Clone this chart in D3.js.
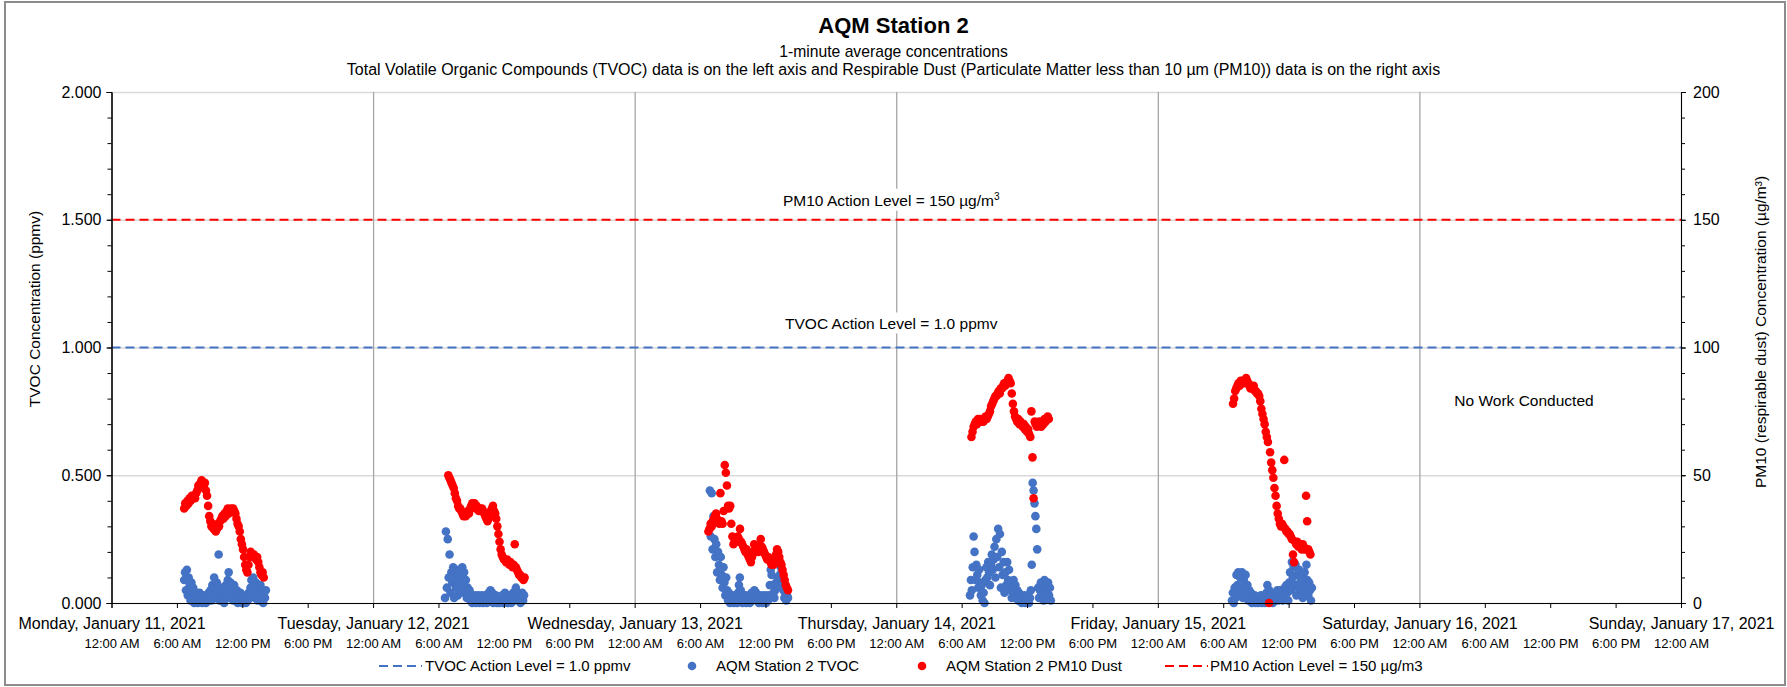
<!DOCTYPE html>
<html>
<head>
<meta charset="utf-8">
<script src="https://cdn.jsdelivr.net/npm/d3@7"></script>
<style>
    body { margin: 0; background: #fff; }
    svg { display: block; font-family: "Liberation Sans", Arial, sans-serif; }
</style>
</head>
<body>
<div id="chart"></div>
<script>
// tick labels
const dateTicks = ["2021-01-11", "2021-01-12", "2021-01-13", "2021-01-14", "2021-01-15", "2021-01-16", "2021-01-17"]
const dateTickLabels = ["Monday, January 11, 2021", "Tuesday, January 12, 2021", "Wednesday, January 13, 2021",
    "Thursday, January 14, 2021", "Friday, January 15, 2021", "Saturday, January 16, 2021", "Sunday, January 17, 2021"]
const timeTickLabels = ["12:00 AM", "6:00 AM", "12:00 PM", "6:00 PM"]
const yLeftTicks = [0, 0.5, 1, 1.5, 2]
const yRightTicks = [0, 50, 100, 150, 200]

const tvocActionLevel = 1.0    // ppmv
const pm10ActionLevel = 150    // ug/m3

// 1-minute data, thinned: TVOC every 5 min, PM10 every 6 min, from the start time of each work day
const tvocStep = 5
const pm10Step = 6
const tvocStart = ["06:40", "06:36", "06:54", "06:46", "06:48"]
const pm10Start = ["06:40", "06:54", "06:46", "06:54", "06:54"]

const tvocMon = [0.09,0.12,0.05,0.13,0.03,0.10,0.07,0.01,0.08,0.04,
    0.06,0.00,0.03,0.01,0.04,0.00,0.02,0.04,0.01,0.03,
    0.00,0.02,0.01,0.03,0.00,0.02,0.01,0.04,0.02,0.05,
    0.01,0.07,0.03,0.10,0.06,0.02,0.08,0.04,0.19,0.01,
    0.05,0.02,0.06,0.03,0.00,0.04,0.07,0.02,0.09,0.12,
    0.05,0.08,0.03,0.06,0.01,0.07,0.04,0.02,0.05,0.00,
    0.03,0.01,0.04,0.02,0.00,0.03,0.01,0.02,0.00,0.03,
    0.01,0.04,0.02,0.06,0.09,0.04,0.10,0.07,0.02,0.08,
    0.05,0.01,0.06,0.03,0.07,0.02,0.05,0.00,0.04,0.02,
    0.05]
const tvocTue = [0.02,0.28,0.06,0.25,0.10,0.19,0.04,0.12,0.08,0.14,
    0.02,0.11,0.06,0.09,0.03,0.13,0.07,0.10,0.04,0.14,
    0.08,0.12,0.05,0.09,0.02,0.06,0.03,0.05,0.01,0.03,
    0.00,0.02,0.01,0.03,0.00,0.02,0.01,0.03,0.00,0.02,
    0.01,0.03,0.00,0.02,0.01,0.03,0.00,0.02,0.04,0.01,
    0.05,0.02,0.04,0.00,0.02,0.01,0.03,0.00,0.02,0.01,
    0.00,0.02,0.01,0.03,0.00,0.02,0.04,0.01,0.03,0.00,
    0.02,0.01,0.03,0.00,0.02,0.04,0.01,0.03,0.06,0.02,
    0.04,0.01,0.03,0.00,0.02,0.04,0.01,0.03]
const tvocWed = [0.44,0.26,0.43,0.21,0.34,0.25,0.18,0.23,0.12,0.20,
    0.15,0.09,0.18,0.11,0.06,0.14,0.08,0.03,0.10,0.05,
    0.01,0.04,0.00,0.02,0.01,0.03,0.00,0.02,0.01,0.03,
    0.00,0.04,0.07,0.10,0.05,0.02,0.00,0.02,0.01,0.03,
    0.00,0.02,0.01,0.03,0.00,0.02,0.04,0.01,0.03,0.05,
    0.02,0.04,0.01,0.03,0.00,0.02,0.01,0.03,0.00,0.02,
    0.01,0.03,0.00,0.02,0.01,0.03,0.07,0.13,0.11,0.07,
    0.04,0.02,0.05,0.08,0.06,0.10,0.07,0.11,0.14,0.12,
    0.08,0.05,0.02,0.04,0.01,0.03,0.02]
const tvocThu = [0.03,0.09,0.05,0.14,0.26,0.20,0.09,0.15,0.11,0.06,
    0.13,0.08,0.03,0.07,0.01,0.04,0.00,0.09,0.14,0.10,
    0.16,0.12,0.07,0.15,0.19,0.13,0.17,0.22,0.10,0.25,
    0.18,0.29,0.14,0.27,0.06,0.20,0.11,0.16,0.04,0.12,
    0.07,0.16,0.09,0.13,0.05,0.08,0.02,0.06,0.09,0.04,
    0.07,0.02,0.05,0.01,0.04,0.02,0.03,0.00,0.02,0.01,
    0.03,0.00,0.02,0.01,0.03,0.00,0.02,0.05,0.15,0.47,
    0.44,0.39,0.34,0.29,0.21,0.06,0.02,0.05,0.08,0.03,
    0.07,0.01,0.09,0.04,0.06,0.02,0.08,0.03,0.06,0.01]
const tvocFri = [0.01,0.04,0.00,0.06,0.02,0.11,0.07,0.12,0.04,0.10,
    0.06,0.12,0.02,0.09,0.05,0.11,0.03,0.07,0.01,0.05,
    0.02,0.04,0.00,0.02,0.01,0.03,0.00,0.02,0.01,0.00,
    0.02,0.01,0.03,0.00,0.02,0.01,0.00,0.02,0.04,0.07,
    0.02,0.05,0.01,0.04,0.02,0.00,0.03,0.01,0.04,0.02,
    0.05,0.01,0.03,0.05,0.02,0.04,0.01,0.03,0.06,0.02,
    0.07,0.04,0.01,0.08,0.12,0.05,0.16,0.10,0.14,0.07,
    0.15,0.03,0.11,0.06,0.13,0.08,0.04,0.10,0.02,0.07,
    0.12,0.05,0.15,0.09,0.03,0.08,0.05,0.01,0.06]

const pm10Mon = [37,39,38,40,39,41,40,42,41,42,
    41,43,44,46,45,47,48,47,46,47,
    44,42,38,34,32,30,31,29,30,28,
    29,31,30,32,33,34,33,35,34,36,
    37,35,36,37,36,37,36,35,33,31,
    30,28,25,23,21,18,15,13,12,15,
    18,20,19,18,19,18,17,18,16,14,
    12,11,12,10]
const pm10Tue = [50,49,48,47,46,45,43,41,40,38,
    37,37,36,35,34,35,34,35,36,35,
    37,38,39,38,39,37,38,37,36,37,
    36,37,36,35,34,33,32,33,35,36,
    37,38,36,35,33,30,27,24,21,19,
    18,17,17,16,17,16,15,16,15,14,
    15,23,14,13,12,11,11,10,10,9,
    10]
const pm10Wed = [28,29,31,30,32,33,34,35,33,32,
    31,43,32,31,36,54,51,46,38,37,
    38,31,26,23,24,25,24,26,25,29,
    24,23,22,21,20,21,19,18,17,16,
    18,20,23,21,20,21,20,22,25,22,
    21,20,19,18,17,18,17,16,15,16,
    15,17,19,21,20,18,16,15,13,11,
    9,7,6,5]
const pm10Thu = [65,67,69,70,71,70,72,71,72,71,
    72,71,72,73,72,73,74,75,77,78,
    79,80,81,81,82,83,82,84,84,85,
    86,85,86,87,88,87,86,82,78,75,
    73,72,71,72,70,71,70,69,70,68,
    69,67,68,66,65,75,57,41,71,70,
    69,70,71,70,69,71,70,72,71,72,
    73,72]
const pm10Fri = [78,80,83,84,85,86,85,87,86,87,
    86,87,88,87,86,85,84,85,84,85,
    83,83,82,82,81,79,76,74,72,70,
    67,65,63,0,59,55,52,49,45,42,
    38,35,33,31,30,31,30,56,29,28,
    28,27,27,26,25,19,16,24,23,24,
    22,23,22,21,23,22,21,42,32,21,
    20,19]

const legendLabels = ["TVOC Action Level = 1.0 ppmv", "AQM Station 2 TVOC", "AQM Station 2 PM10 Dust", "PM10 Action Level = 150 µg/m3"]

const blue = "#4472C4", red = "#FF0000"

/*
    CHART
*/
const width = 1787, height = 687
const margin = ({ top: 92, right: 106, bottom: 84, left: 111.5 })
const plotW = width - margin.left - margin.right
const plotH = height - margin.top - margin.bottom
const font = "Liberation Sans, Arial, sans-serif"

const parseTime = d3.timeParse("%Y-%m-%d %H:%M")

const toPoints = (series, starts, step) => series.flatMap((vals, i) => {
    const t0 = parseTime(dateTicks[i] + " " + starts[i])
    return vals.map((v, j) => ({ t: d3.timeMinute.offset(t0, j * step), v: v }))
})
const tvoc = toPoints([tvocMon, tvocTue, tvocWed, tvocThu, tvocFri], tvocStart, tvocStep)
const pm10 = toPoints([pm10Mon, pm10Tue, pm10Wed, pm10Thu, pm10Fri], pm10Start, pm10Step)

var svg = d3.select("#chart").append("svg")
    .attr("width", width)
    .attr("height", height)

const x = d3.scaleTime()
    .domain([parseTime(dateTicks[0] + " 00:00"), parseTime(dateTicks[dateTicks.length - 1] + " 00:00")])
    .range([margin.left, width - margin.right])
const yL = d3.scaleLinear().domain([0, 2]).range([height - margin.bottom, margin.top])
const yR = d3.scaleLinear().domain([0, 200]).range([height - margin.bottom, margin.top])

// chart border
svg.append("rect")
    .attr("x", 5).attr("y", 2)
    .attr("width", width - 7).attr("height", height - 4)
    .attr("fill", "none").attr("stroke", "#8c8c8c").attr("stroke-width", 2)

// gridlines
svg.append("g")
    .attr("transform", `translate(${margin.left},0)`)
    .call(d3.axisLeft(yL).tickValues(yLeftTicks).tickSize(-plotW).tickFormat(""))
    .call(g => g.select(".domain").remove())
    .call(g => g.selectAll(".tick line").attr("stroke", "#d9d9d9").attr("stroke-width", 1.3))

svg.append("g")
    .attr("transform", `translate(0,${margin.top})`)
    .call(d3.axisBottom(x).ticks(d3.timeDay.every(1)).tickSize(plotH).tickFormat(""))
    .call(g => g.select(".domain").remove())
    .call(g => g.selectAll(".tick line").attr("stroke", "#a6a6a6").attr("stroke-width", 1.3))

// action levels
svg.append("line")
    .attr("x1", margin.left).attr("x2", width - margin.right)
    .attr("y1", yR(pm10ActionLevel)).attr("y2", yR(pm10ActionLevel))
    .attr("stroke", red).attr("stroke-width", 2).attr("stroke-dasharray", "9,5")
svg.append("line")
    .attr("x1", margin.left).attr("x2", width - margin.right)
    .attr("y1", yL(tvocActionLevel)).attr("y2", yL(tvocActionLevel))
    .attr("stroke", blue).attr("stroke-width", 2).attr("stroke-dasharray", "9,5")

// annotations (white boxes over the gridlines)
const note = (cx, cy, build) => {
    const g = svg.append("g")
    const t = g.append("text")
        .attr("x", cx).attr("y", cy)
        .attr("text-anchor", "middle")
        .attr("font-size", 15.5)
        .attr("fill", "#000")
    build(t)
    const b = t.node().getBBox()
    g.insert("rect", "text")
        .attr("x", b.x - 3).attr("y", b.y - 2)
        .attr("width", b.width + 6).attr("height", b.height + 4)
        .attr("fill", "#fff")
}
const midX = x(parseTime(dateTicks[3] + " 00:00")) - 5
note(midX, yR(pm10ActionLevel) - 14, t => {
    t.append("tspan").text("PM10 Action Level = 150 µg/m")
    t.append("tspan").attr("font-size", 10).attr("dy", -6).text("3")
})
note(midX, yL(tvocActionLevel) - 19, t => t.text("TVOC Action Level = 1.0 ppmv"))
note(1524, 406, t => t.text("No Work Conducted"))

// data
svg.append("g")
    .selectAll("circle")
    .data(tvoc)
    .join("circle")
    .attr("cx", d => x(d.t))
    .attr("cy", d => yL(d.v))
    .attr("r", 4.3)
    .attr("fill", blue)

svg.append("g")
    .selectAll("circle")
    .data(pm10)
    .join("circle")
    .attr("cx", d => x(d.t))
    .attr("cy", d => yR(d.v))
    .attr("r", 4.3)
    .attr("fill", red)

// axes
const styleAxis = (g, size) => g
    .attr("font-family", font)
    .attr("font-size", size)
    .call(g => g.selectAll("text").attr("fill", "#000"))
    .call(g => g.selectAll("line, path").attr("stroke", "#000"))

svg.append("g")
    .attr("transform", `translate(${margin.left},0)`)
    .call(d3.axisLeft(yL).ticks(20).tickSize(4).tickFormat(""))
    .call(g => styleAxis(g, 16))
svg.append("g")
    .attr("transform", `translate(${margin.left},0)`)
    .call(d3.axisLeft(yL).tickValues(yLeftTicks).tickSize(5).tickPadding(5).tickFormat(d3.format(".3f")))
    .call(g => styleAxis(g, 16))

svg.append("g")
    .attr("transform", `translate(${width - margin.right},0)`)
    .call(d3.axisRight(yR).ticks(20).tickSize(4).tickFormat(""))
    .call(g => styleAxis(g, 16))
svg.append("g")
    .attr("transform", `translate(${width - margin.right},0)`)
    .call(d3.axisRight(yR).tickValues(yRightTicks).tickSize(5).tickPadding(7))
    .call(g => styleAxis(g, 16))

svg.append("g")
    .attr("transform", `translate(0,${height - margin.bottom})`)
    .call(d3.axisBottom(x).ticks(d3.timeHour.every(6)).tickSize(5).tickPadding(31)
        .tickFormat(d => timeTickLabels[d.getHours() / 6]))
    .call(g => styleAxis(g, 13))
svg.append("g")
    .attr("transform", `translate(0,${height - margin.bottom})`)
    .call(d3.axisBottom(x).ticks(d3.timeDay.every(1)).tickSize(0).tickPadding(15)
        .tickFormat((d, i) => dateTickLabels[i]))
    .call(g => g.select(".domain").remove())
    .call(g => styleAxis(g, 16))

// axis titles
svg.append("text")
    .attr("transform", `translate(40,309) rotate(-90)`)
    .attr("text-anchor", "middle")
    .attr("font-size", 15.5)
    .text("TVOC Concentration (ppmv)")
svg.append("text")
    .attr("transform", `translate(1766,332) rotate(-90)`)
    .attr("text-anchor", "middle")
    .attr("font-size", 15.5)
    .text("PM10 (respirable dust) Concentration (µg/m³)")

// titles
svg.append("text")
    .attr("x", width / 2).attr("y", 33)
    .attr("text-anchor", "middle")
    .attr("font-size", 22).attr("font-weight", "bold")
    .text("AQM Station 2")
svg.append("text")
    .attr("x", width / 2).attr("y", 56.5)
    .attr("text-anchor", "middle")
    .attr("font-size", 15.7)
    .text("1-minute average concentrations")
svg.append("text")
    .attr("x", width / 2).attr("y", 75)
    .attr("text-anchor", "middle")
    .attr("font-size", 16)
    .text("Total Volatile Organic Compounds (TVOC) data is on the left axis and Respirable Dust (Particulate Matter less than 10 µm (PM10)) data is on the right axis")

// legend
const legendY = 666
const legend = svg.append("g").attr("font-size", 15)
const symX = [379, 692, 922, 1165]
const textX = [425, 716, 946, 1210]
legend.append("line")
    .attr("x1", symX[0]).attr("x2", symX[0] + 43).attr("y1", legendY).attr("y2", legendY)
    .attr("stroke", blue).attr("stroke-width", 2).attr("stroke-dasharray", "9,5")
legend.append("circle").attr("cx", symX[1]).attr("cy", legendY).attr("r", 4.3).attr("fill", blue)
legend.append("circle").attr("cx", symX[2]).attr("cy", legendY).attr("r", 4.3).attr("fill", red)
legend.append("line")
    .attr("x1", symX[3]).attr("x2", symX[3] + 43).attr("y1", legendY).attr("y2", legendY)
    .attr("stroke", red).attr("stroke-width", 2).attr("stroke-dasharray", "9,5")
legend.selectAll("text")
    .data(legendLabels)
    .join("text")
    .attr("x", (d, i) => textX[i])
    .attr("y", legendY)
    .attr("dy", "0.35em")
    .text(d => d)
</script>
</body>
</html>
